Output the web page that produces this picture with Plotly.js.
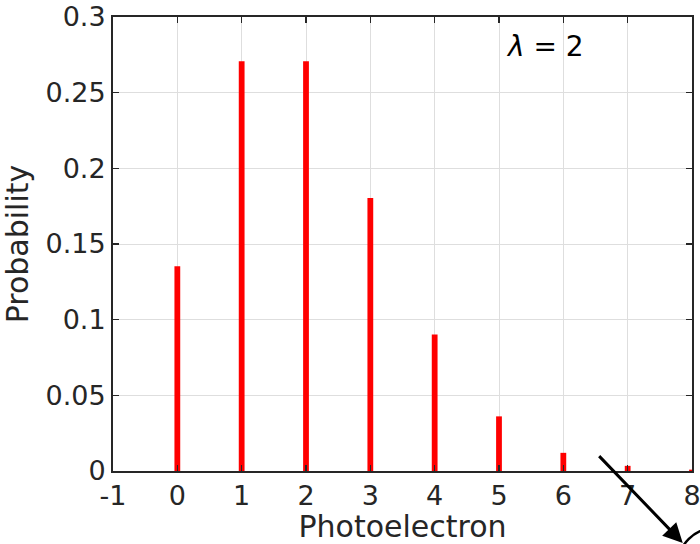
<!DOCTYPE html>
<html><head><meta charset="utf-8">
<script src="https://cdn.plot.ly/plotly-3.0.1.min.js"></script>
<style>body{margin:0;background:#fff}#c{width:700px;height:544px}</style>
</head><body><div id="c"></div>
<script>
const photoelectrons = [0, 1, 2, 3, 4, 5, 6, 7, 8];
const probability = [0.1353, 0.2707, 0.2707, 0.1804, 0.0902, 0.0361, 0.0120, 0.0034, 0.0009];
const xTicks = [-1, 0, 1, 2, 3, 4, 5, 6, 7, 8];
const yTicks = [0, 0.05, 0.1, 0.15, 0.2, 0.25, 0.3];
const yTickText = ['0', '0.05', '0.1', '0.15', '0.2', '0.25', '0.3'];

const axisCol = '#262626';
const trace = {
  type: 'bar', x: photoelectrons, y: probability, width: 0.09,
  marker: {color: '#ff0000', line: {width: 0}}, hoverinfo: 'skip'
};
const layout = {
  width: 700, height: 544,
  margin: {l: 112.6, r: 8, t: 17, b: 73},
  paper_bgcolor: '#fff', plot_bgcolor: '#fff',
  font: {family: 'DejaVu Sans', color: axisCol},
  showlegend: false,
  xaxis: {
    range: [-1, 8], tickvals: xTicks, ticktext: xTicks.map(String),
    ticklabeloverflow: 'allow',
    showgrid: true, gridcolor: '#dedede', gridwidth: 1,
    showline: true, linecolor: axisCol, linewidth: 2, mirror: 'ticks',
    ticks: 'inside', ticklen: 6, tickcolor: axisCol, tickwidth: 1.5,
    tickfont: {size: 27, color: axisCol}, zeroline: false,
    title: {text: 'Photoelectron', font: {size: 30, color: axisCol}, standoff: 4}
  },
  yaxis: {
    range: [0, 0.3], tickvals: yTicks, ticktext: yTickText,
    ticklabeloverflow: 'allow',
    showgrid: true, gridcolor: '#dedede', gridwidth: 1,
    showline: true, linecolor: axisCol, linewidth: 2, mirror: 'ticks',
    ticks: 'inside', ticklen: 6, tickcolor: axisCol, tickwidth: 1.5,
    tickfont: {size: 27, color: axisCol}, zeroline: false,
    title: {text: 'Probability', font: {size: 30, color: axisCol}, standoff: 10}
  },
  annotations: [
    {xref: 'paper', yref: 'paper', x: 0.675, y: 0.935, xanchor: 'left', yanchor: 'middle',
     text: '<i>λ</i> = 2', showarrow: false, font: {size: 28, color: '#000'}},
    {xref: 'paper', yref: 'paper', x: 0.984, y: -0.16, text: '',
     showarrow: true, arrowhead: 2, arrowsize: 1.3, arrowwidth: 3, arrowcolor: '#000',
     axref: 'pixel', ayref: 'pixel', ax: -85, ay: -89}
  ],
  shapes: [
    {type: 'circle', xref: 'paper', yref: 'paper',
     x0: (678 - 112.6) / 579.4, x1: (752 - 112.6) / 579.4,
     y0: (471 - 602) / 454, y1: (471 - 528) / 454,
     line: {color: '#000', width: 2.5}}
  ]
};
Plotly.newPlot('c', [trace], layout, {displayModeBar: false, staticPlot: true});
</script></body></html>
